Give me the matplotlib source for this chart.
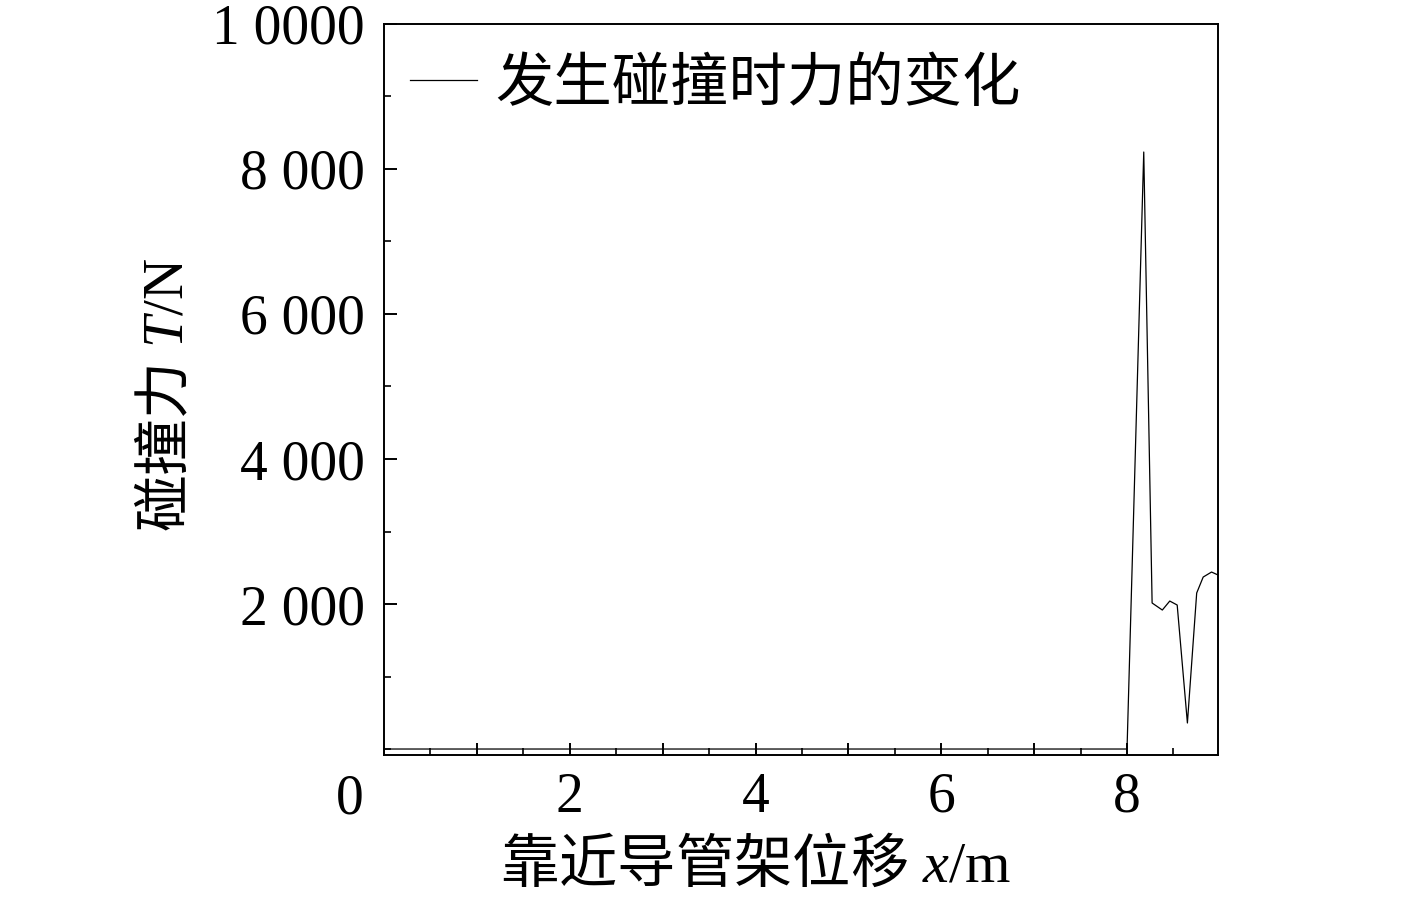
import matplotlib
matplotlib.use('Agg')
import matplotlib.pyplot as plt
from matplotlib.ticker import MultipleLocator

plt.rcParams['font.family'] = ['Liberation Serif', 'Noto Sans CJK SC']
plt.rcParams['mathtext.fontset'] = 'custom'
plt.rcParams['mathtext.rm'] = 'Noto Sans CJK SC'
plt.rcParams['mathtext.it'] = 'Liberation Serif:italic'
plt.rcParams['mathtext.sf'] = 'Liberation Serif'

# 位移 x (m) 与碰撞力 T (N)
posicion = [0.0, 8.00, 8.18, 8.27, 8.38, 8.46, 8.54, 8.65, 8.75, 8.82, 8.91, 8.98]
fuerza = [0, 0, 8234, 2014, 1917, 2041, 1986, 359, 2152, 2372, 2441, 2400]

x_ticks = [1, 2, 3, 4, 5, 6, 7, 8]
x_labels = ['', '2', '', '4', '', '6', '', '8']
y_ticks = [2000, 4000, 6000, 8000, 10000]
y_labels = ['2 000', '4 000', '6 000', '8 000', '1 0000']
serie = '发生碰撞时力的变化'

fig = plt.figure(figsize=(14.17, 8.98), dpi=100)
ax = fig.add_axes([0.271, 0.1592, 0.5886, 0.8141])

ax.plot(posicion, fuerza, color='black', linewidth=0.9, label=serie)

ax.set_xlim(0, 8.98)
ax.set_ylim(-83, 10000)

ax.set_xticks(x_ticks)
ax.set_xticklabels(x_labels)
ax.xaxis.set_minor_locator(MultipleLocator(0.5))
ax.set_yticks(y_ticks)
ax.set_yticklabels(y_labels)
ax.yaxis.set_minor_locator(MultipleLocator(1000))

ax.tick_params(axis='both', which='both', direction='in', top=False, right=False)
ax.tick_params(axis='both', which='major', length=9, width=1.4, labelsize=40)
ax.tick_params(axis='both', which='minor', length=5, width=1.2)
ax.tick_params(axis='x', which='major', pad=12)
ax.tick_params(axis='y', which='major', pad=14)

for s in ax.spines.values():
    s.set_linewidth(1.4)

# el "0" del origen va un poco a la izquierda
ax.text(-0.37, -0.061, '0', transform=ax.get_xaxis_transform(),
        fontsize=40, ha='center', va='center')

ax.set_xlabel(r'$\mathrm{靠近导管架位移}\ \mathit{x}\mathsf{/m}$', fontsize=42)
ax.set_ylabel(r'$\mathrm{碰撞力}\ \mathit{T}\mathsf{/N}$', fontsize=41)
ax.xaxis.set_label_coords(0.446, -0.150)
ax.xaxis.label.set_va('center')
ax.yaxis.set_label_coords(-0.261, 0.4925)
ax.yaxis.label.set_va('center')

ax.legend(loc='upper left', bbox_to_anchor=(0.0036, 0.985), frameon=False,
          fontsize=42, handlelength=1.15, handletextpad=0.3,
          borderaxespad=0.2, borderpad=0.2)

plt.savefig('out.png', dpi=100)
